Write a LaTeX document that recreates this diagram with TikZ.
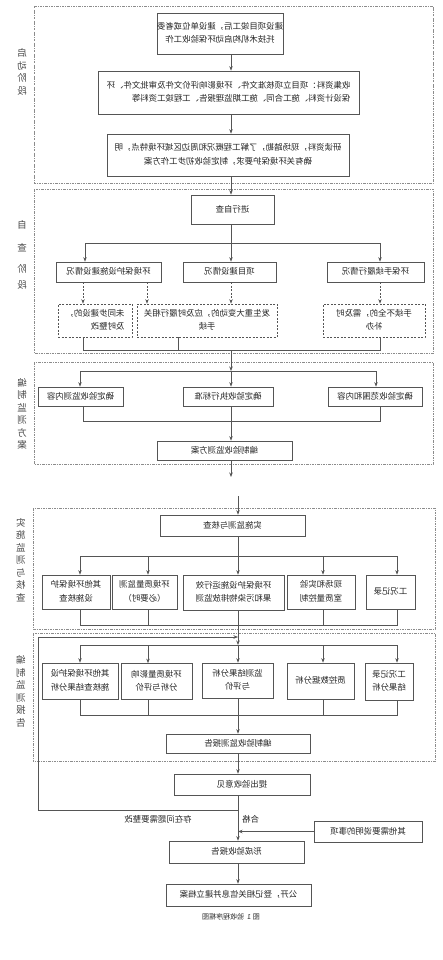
\documentclass[tikz,border=0pt]{standalone}
\usepackage{fontspec}
\setmainfont{Noto Sans CJK SC}
\usetikzlibrary{arrows.meta}
\definecolor{ink}{HTML}{262626}
\definecolor{edge}{HTML}{555555}
\definecolor{frame}{HTML}{8C8C8C}
\definecolor{labink}{HTML}{4A4A4A}
\newcommand{\mt}[2][c]{\reflectbox{\begin{tabular}{@{}#1@{}}#2\end{tabular}}}
\tikzset{
  box/.style={draw=edge, line width=0.7pt, fill=white, inner sep=0pt, text=ink, font=\fontsize{8.4}{13.5}\selectfont},
  dbox/.style={box, dash pattern=on 2pt off 1.5pt},
  sz/.style 2 args={minimum width=#1pt, minimum height=#2pt},
  stg/.style={draw=frame, line width=0.5pt, dash pattern=on 2.5pt off 1.2pt on 0.6pt off 1.2pt},
  lab/.style={text=labink, font=\fontsize{9.5}{12.5}\selectfont, inner sep=0pt},
  txt/.style={text=ink, font=\fontsize{8.4}{13.5}\selectfont, inner sep=0pt},
  ln/.style={draw=edge, line width=0.7pt},
  arr/.style={ln, -{Stealth[length=4.5pt,width=3.5pt]}},
  darr/.style={arr, dash pattern=on 2pt off 1.5pt},
}
\begin{document}
\begin{tikzpicture}[x=1pt,y=-1pt]
\useasboundingbox (0,0) rectangle (442,960);
\fill[white] (0,0) rectangle (442,960);

% stage frames
\draw[stg] (34,6) rectangle (433,183);
\draw[stg] (34,189) rectangle (433,353);
\draw[stg] (34,362) rectangle (433,464);
\draw[stg] (33,508) rectangle (435,629);
\draw[stg] (33,633) rectangle (435,761);

% stage labels
\node[lab] (l1) at (22,73) {\mt{启\\动\\阶\\段}};
\node[lab] (l2) at (22,256) {\mt{自\\[10pt]查\\[9pt]阶\\[3pt]段}};
\node[lab] (l3) at (22,415) {\mt{编\\制\\监\\测\\方\\案}};
\node[lab] (l4) at (21,561) {\mt{实\\施\\监\\测\\与\\核\\查}};
\node[lab] (l5) at (21,692.5) {\mt{编\\制\\监\\测\\报\\告}};

% ---------- stage 1
\coordinate (s1) at (231,0);
\node[box,sz={126}{41}] (b1) at (220,33.5) {\mt{建设项目竣工后，建设单位或者委\\托技术机构启动环保验收工作}};
\node[box,sz={261}{43}] (b2) at (228.5,92.5) {\mt[l]{收集资料：项目立项核准文件、环境影响评价文件及审批文件、环\\保设计资料、施工合同、施工期监理报告、工程竣工资料等}};
\node[box,sz={242}{42}] (b3) at (228,155) {\mt{研读资料，现场踏勘，了解工程概况和周边区域环境特点，明\\确有关环境保护要求，制定验收初步工作方案}};
\draw[arr] (b1.south -| s1) -- (b2.north -| s1);
\draw[arr] (b2.south -| s1) -- (b3.north -| s1);

% ---------- stage 2
\node[box,sz={83}{29}] (zc) at (232.5,209.5) {\mt{进行自查}};
\draw[arr] (b3.south -| s1) -- (zc.north -| s1);
\coordinate (j2) at (231,243);
\coordinate (j2a) at (85,243);
\coordinate (j2c) at (380,243);
\draw[ln] (zc.south -| s1) -- (j2);
\draw[ln] (j2a) -- (j2c);
\node[box,sz={105}{20}] (L2) at (108.5,272) {\mt{环境保护设施建设情况}};
\node[box,sz={93}{20}] (M2) at (229.5,272) {\mt{项目建设情况}};
\node[box,sz={97}{20}] (R2) at (375.5,272) {\mt{环保手续履行情况}};
\draw[arr] (j2a) -- (j2a |- L2.north);
\draw[arr] (j2) -- (j2 |- M2.north);
\draw[arr] (j2c) -- (j2c |- R2.north);
\node[dbox,sz={74}{33}] (DL) at (95,320.5) {\mt[l]{未同步建设的，\\及时整改}};
\node[dbox,sz={140}{33}] (DM) at (207,320.5) {\mt{发生重大变动的，应及时履行相关\\手续}};
\node[dbox,sz={102}{33}] (DR) at (374,320.5) {\mt{手续不全的，需及时\\补办}};
\coordinate (k2a) at (83,350);
\coordinate (k2b) at (178,350);
\coordinate (k2c) at (380,350);
\coordinate (k2) at (231,350);
\coordinate (xd2) at (147,0);
\draw[darr] (L2.south -| k2a) -- (DL.north -| k2a);
\draw[darr] (L2.south -| xd2) -- (DM.north -| xd2);
\draw[darr] (M2.south -| s1) -- (DM.north -| s1);
\draw[darr] (R2.south -| k2c) -- (DR.north -| k2c);
\draw[ln] (DL.south -| k2a) -- (k2a) -- (k2c) -- (DR.south -| k2c);
\draw[ln] (DM.south -| k2b) -- (k2b);

% ---------- stage 3
\coordinate (j3) at (231,371);
\coordinate (j3a) at (80,371);
\coordinate (j3c) at (376,371);
\draw[arr] (k2) -- (j3);
\draw[ln] (j3a) -- (j3c);
\node[box,sz={85}{19}] (L3) at (80.5,396.5) {\mt{确定验收监测内容}};
\node[box,sz={90}{19}] (M3) at (228,396.5) {\mt{确定验收执行标准}};
\node[box,sz={94}{19}] (R3) at (375,396.5) {\mt{确定验收范围和内容}};
\draw[arr] (j3a) -- (j3a |- L3.north);
\draw[arr] (j3) -- (j3 |- M3.north);
\draw[arr] (j3c) -- (j3c |- R3.north);
\coordinate (k3a) at (83,421);
\coordinate (k3c) at (380,421);
\draw[ln] (L3.south -| k3a) -- (k3a) -- (k3c) -- (R3.south -| k3c);
\node[box,sz={135}{19}] (P3) at (224.5,450.5) {\mt{编制验收监测方案}};
\draw[arr] (M3.south -| s1) -- (P3.north -| s1);
\coordinate (e3) at (231,477);
\draw[arr] (P3.south -| s1) -- (e3);

% ---------- stage 4
\coordinate (s2) at (238,0);
\coordinate (t4) at (238,496);
\node[box,sz={145}{21}] (S4) at (232.5,525.5) {\mt{实施监测与核查}};
\draw[arr] (t4) -- (S4.north -| s2);
\coordinate (j4) at (238,556);
\coordinate (j4a) at (80,556);
\coordinate (j4b) at (148,556);
\coordinate (j4d) at (323,556);
\coordinate (j4e) at (397,556);
\draw[ln] (S4.south -| s2) -- (j4);
\draw[ln] (j4a) -- (j4e);
\node[box,sz={68}{34}] (A1) at (76,592) {\mt{其他环境保护\\设施核查}};
\node[box,sz={65}{34}] (A2) at (144.5,592) {\mt{环境质量监测\\（必要时）}};
\node[box,sz={101}{35}] (A3) at (233.5,592.5) {\mt{环境保护设施运行效\\果和污染物排放监测}};
\node[box,sz={68}{34}] (A4) at (321,592) {\mt{现场和实验\\室质量控制}};
\node[box,sz={49}{34}] (A5) at (390.5,592) {\mt{工况记录}};
\draw[arr] (j4a) -- (j4a |- A1.north);
\draw[arr] (j4b) -- (j4b |- A2.north);
\draw[arr] (j4) -- (j4 |- A3.north);
\draw[arr] (j4d) -- (j4d |- A4.north);
\draw[arr] (j4e) -- (j4e |- A5.north);
\coordinate (k4a) at (80,625);
\coordinate (k4b) at (148,625);
\coordinate (k4d) at (323,625);
\coordinate (k4e) at (397,625);
\draw[ln] (A1.south -| k4a) -- (k4a) -- (k4e) -- (A5.south -| k4e);
\draw[ln] (A2.south -| k4b) -- (k4b);
\draw[ln] (A4.south -| k4d) -- (k4d);

% ---------- stage 5
\coordinate (j5) at (238,645);
\coordinate (j5a) at (80,645);
\coordinate (j5b) at (148,645);
\coordinate (j5d) at (323,645);
\coordinate (j5e) at (397,645);
\draw[arr] (A3.south -| s2) -- (j5);
\draw[ln] (j5a) -- (j5e);
\node[box,sz={76}{36}] (C1) at (80,681) {\mt{其他环境保护设\\施核查结果分析}};
\node[box,sz={71}{36}] (C2) at (156.5,681.5) {\mt{环境质量影响\\分析与评价}};
\node[box,sz={71}{35}] (C3) at (237.5,680.5) {\mt{监测结果分析\\与评价}};
\node[box,sz={67}{36}] (C4) at (320.5,681) {\raisebox{3pt}{\mt{质控数据分析}}};
\node[box,sz={48}{37}] (C5) at (389,681.5) {\mt{工况记录\\结果分析}};
\draw[arr] (j5a) -- (j5a |- C1.north);
\draw[arr] (j5b) -- (j5b |- C2.north);
\draw[arr] (j5) -- (j5 |- C3.north);
\draw[arr] (j5d) -- (j5d |- C4.north);
\draw[arr] (j5e) -- (j5e |- C5.north);
\coordinate (k5a) at (80,715);
\coordinate (k5b) at (148,715);
\coordinate (k5d) at (323,715);
\coordinate (k5e) at (397,715);
\draw[ln] (C1.south -| k5a) -- (k5a) -- (k5e) -- (C5.south -| k5e);
\draw[ln] (C2.south -| k5b) -- (k5b);
\draw[ln] (C4.south -| k5d) -- (k5d);
\node[box,sz={144}{19}] (R5) at (238,743.5) {\mt{编制验收监测报告}};
\draw[arr] (C3.south -| s2) -- (R5.north -| s2);

% ---------- final part
\node[box,sz={136}{21}] (YJ) at (242,784.5) {\mt{提出验收意见}};
\draw[arr] (R5.south -| s2) -- (YJ.north -| s2);
\node[box,sz={135}{22}] (XC) at (236.5,852) {\mt{形成验收报告}};
\draw[arr] (YJ.south -| s2) -- (XC.north -| s2);
\coordinate (lp) at (238,810);
\coordinate (lpb) at (38,810);
\coordinate (lpt) at (38,637);
\coordinate (lpe) at (238,637);
\draw[arr] (lp) -- (lpb) -- (lpt) -- (lpe);
\node[txt] (zg) at (158,820) {\mt{存在问题需要整改}};
\node[txt,anchor=west] (hg) at (242,820) {\mt{合格}};
\node[box,sz={108}{21}] (QT) at (368,831.5) {\mt{其他需要说明的事项}};
\draw[arr] (QT.west) -- (QT.west -| s2);
\node[box,sz={145}{22}] (GK) at (238.5,895) {\mt{公开，登记相关信息并建立档案}};
\draw[arr] (XC.south -| s2) -- (GK.north -| s2);
\node[txt,font=\fontsize{7}{8}\selectfont] (cap) at (231,918) {\mt{图 1\ \ 验收程序框图}};
\end{tikzpicture}
\end{document}
